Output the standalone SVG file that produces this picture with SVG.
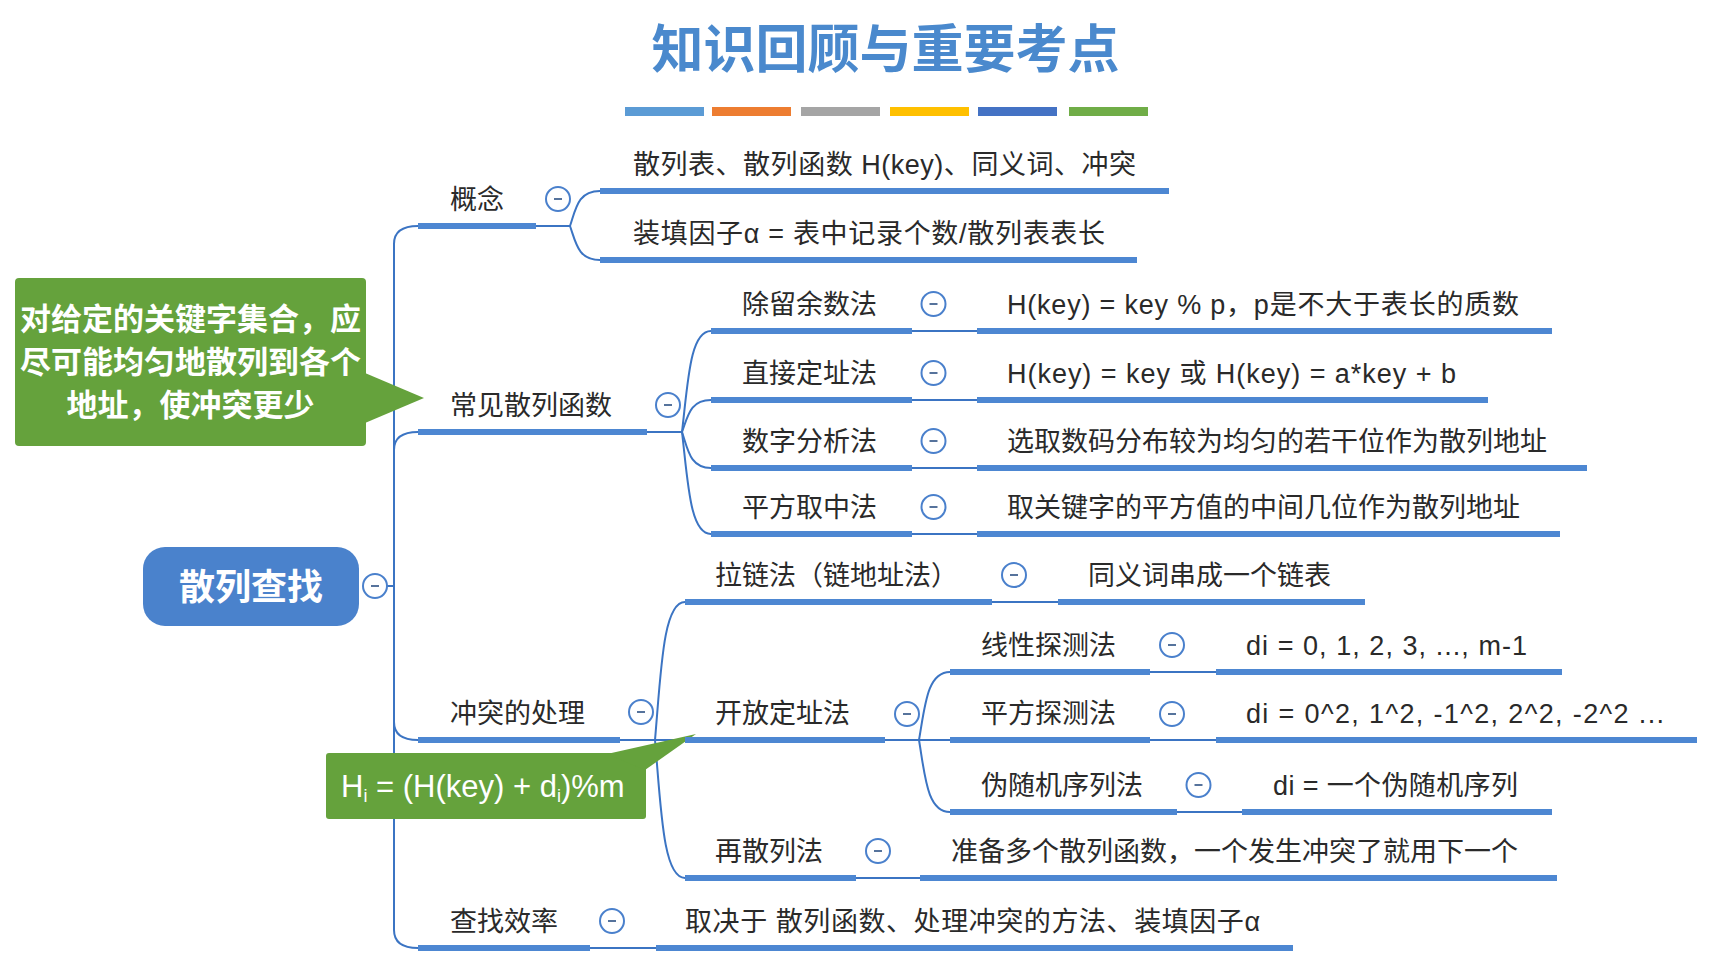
<svg xmlns="http://www.w3.org/2000/svg" xmlns:xlink="http://www.w3.org/1999/xlink" width="1723" height="973" viewBox="0 0 1723 973">
<defs>
<style>
.t{font-family:"Liberation Sans","Noto Sans CJK SC",sans-serif;font-size:27px;fill:#2a2a2a}
.ul{stroke:#4d87d2;stroke-width:6;fill:none}
.cn{stroke:#3b74c3;stroke-width:2;fill:none}
.bar{height:9px;width:79px}
.gt{font-family:"Noto Sans CJK SC",sans-serif;font-size:31px;font-weight:700;fill:#ffffff}
</style>
<g id="btn">
<circle r="12" fill="#ffffff" stroke="#4a80cc" stroke-width="2"/>
<line x1="-4" y1="0" x2="4" y2="0" stroke="#56739c" stroke-width="2"/>
</g>
</defs>
<rect width="1723" height="973" fill="#ffffff"/>

<g id="title">
<text x="885.5" y="68" text-anchor="middle" font-family="Noto Sans CJK SC, sans-serif" font-size="52" font-weight="700" fill="#4a89cd">知识回顾与重要考点</text>
<rect x="625" y="107" width="79" height="9" fill="#5b9bd5"/>
<rect x="712" y="107" width="79" height="9" fill="#ed7d31"/>
<rect x="801" y="107" width="79" height="9" fill="#a5a5a5"/>
<rect x="890" y="107" width="79" height="9" fill="#ffc000"/>
<rect x="978" y="107" width="79" height="9" fill="#4472c4"/>
<rect x="1069" y="107" width="79" height="9" fill="#70ad47"/>
</g>

<g id="connectors">
<path class="cn" d="M387,586 H394"/>
<path class="cn" d="M394,586 V244 Q394,226 418,226"/>
<path class="cn" d="M394,586 V450 Q394,432 418,432"/>
<path class="cn" d="M394,586 V722 Q394,740 418,740"/>
<path class="cn" d="M394,586 V930 Q394,948 418,948"/>
<path class="cn" d="M536,226 H570"/>
<path class="cn" d="M570,226 C576,208 578,191 600,191"/>
<path class="cn" d="M570,226 C576,243 578,260 600,260"/>
<path class="cn" d="M647,432 H682"/>
<path class="cn" d="M682,432 C688,381 690,331 711,331"/>
<path class="cn" d="M682,432 C688,416 690,400 711,400"/>
<path class="cn" d="M682,432 C688,450 690,468 711,468"/>
<path class="cn" d="M682,432 C688,483 690,534 711,534"/>
<path class="cn" d="M620,740 H655"/>
<path class="cn" d="M655,740 C661,671 663,602 685,602"/>
<path class="cn" d="M655,740 H685"/>
<path class="cn" d="M655,740 C661,809 663,878 685,878"/>
<path class="cn" d="M885,740 H919"/>
<path class="cn" d="M919,740 C925,706 927,672 950,672"/>
<path class="cn" d="M919,740 H950"/>
<path class="cn" d="M919,740 C925,776 927,812 950,812"/>
<path class="cn" d="M912,331 H977"/>
<path class="cn" d="M912,400 H977"/>
<path class="cn" d="M912,468 H977"/>
<path class="cn" d="M912,534 H977"/>
<path class="cn" d="M992,602 H1058"/>
<path class="cn" d="M1150,672 H1216"/>
<path class="cn" d="M1150,740 H1216"/>
<path class="cn" d="M1177,812 H1242"/>
<path class="cn" d="M856,878 H920"/>
<path class="cn" d="M590,948 H656"/>
</g>

<g id="root">
<rect x="143" y="547" width="216" height="79" rx="22" fill="#4a82cc"/>
<text x="251" y="600" text-anchor="middle" font-family="Noto Sans CJK SC, sans-serif" font-size="36" font-weight="700" fill="#ffffff">散列查找</text>
<use xlink:href="#btn" x="375" y="586"/>
</g>

<g id="note-goal">
<rect x="15" y="278" width="351" height="168" rx="4" fill="#65a23c"/>
<polygon points="365,373 424,398 365,423" fill="#65a23c"/>
<text class="gt" x="190.5" y="330" text-anchor="middle">对给定的关键字集合，应</text>
<text class="gt" x="190.5" y="373" text-anchor="middle">尽可能均匀地散列到各个</text>
<text class="gt" x="190.5" y="416" text-anchor="middle">地址，使冲突更少</text>
</g>

<g id="note-formula">
<rect x="326" y="753" width="320" height="66" rx="3" fill="#65a23c"/>
<polygon points="607,754 696,734 645,770" fill="#65a23c"/>
<text x="341" y="797" font-family="Liberation Sans, sans-serif" font-size="31" fill="#ffffff">H<tspan font-size="18" dy="5">i</tspan><tspan dy="-5"> = (H(key) + d</tspan><tspan font-size="18" dy="5">i</tspan><tspan dy="-5">)%m</tspan></text>
</g>

<g id="n-concept">
<line class="ul" x1="418" y1="226" x2="536" y2="226"/>
<text class="t" x="450" y="209">概念</text>
<use xlink:href="#btn" x="558" y="199"/>
</g>
<g id="n-concept-1">
<line class="ul" x1="600" y1="191" x2="1169" y2="191"/>
<text class="t" x="633" y="174" textLength="503">散列表、散列函数 H(key)、同义词、冲突</text>
</g>
<g id="n-concept-2">
<line class="ul" x1="600" y1="260" x2="1137" y2="260"/>
<text class="t" x="633" y="243" textLength="472">装填因子α = 表中记录个数/散列表表长</text>
</g>

<g id="n-func">
<line class="ul" x1="418" y1="432" x2="647" y2="432"/>
<text class="t" x="450" y="415">常见散列函数</text>
<use xlink:href="#btn" x="668" y="405"/>
</g>
<g id="n-div">
<line class="ul" x1="711" y1="331" x2="912" y2="331"/>
<text class="t" x="742" y="314">除留余数法</text>
<use xlink:href="#btn" x="933.5" y="304"/>
<line class="ul" x1="977" y1="331" x2="1552" y2="331"/>
<text class="t" x="1007" y="314" textLength="512">H(key) = key % p，p是不大于表长的质数</text>
</g>
<g id="n-direct">
<line class="ul" x1="711" y1="400" x2="912" y2="400"/>
<text class="t" x="742" y="383">直接定址法</text>
<use xlink:href="#btn" x="933.5" y="373"/>
<line class="ul" x1="977" y1="400" x2="1488" y2="400"/>
<text class="t" x="1007" y="383" textLength="449">H(key) = key 或 H(key) = a*key + b</text>
</g>
<g id="n-digit">
<line class="ul" x1="711" y1="468" x2="912" y2="468"/>
<text class="t" x="742" y="451">数字分析法</text>
<use xlink:href="#btn" x="933.5" y="441"/>
<line class="ul" x1="977" y1="468" x2="1587" y2="468"/>
<text class="t" x="1007" y="451">选取数码分布较为均匀的若干位作为散列地址</text>
</g>
<g id="n-midsq">
<line class="ul" x1="711" y1="534" x2="912" y2="534"/>
<text class="t" x="742" y="517">平方取中法</text>
<use xlink:href="#btn" x="933.5" y="507"/>
<line class="ul" x1="977" y1="534" x2="1560" y2="534"/>
<text class="t" x="1007" y="517">取关键字的平方值的中间几位作为散列地址</text>
</g>

<g id="n-collision">
<line class="ul" x1="418" y1="740" x2="620" y2="740"/>
<text class="t" x="450" y="723">冲突的处理</text>
<use xlink:href="#btn" x="641" y="712"/>
</g>
<g id="n-chain">
<line class="ul" x1="685" y1="602" x2="992" y2="602"/>
<text class="t" x="715" y="585">拉链法（链地址法）</text>
<use xlink:href="#btn" x="1014" y="575"/>
<line class="ul" x1="1058" y1="602" x2="1365" y2="602"/>
<text class="t" x="1088" y="585">同义词串成一个链表</text>
</g>
<g id="n-open">
<line class="ul" x1="685" y1="740" x2="885" y2="740"/>
<text class="t" x="715" y="723">开放定址法</text>
<use xlink:href="#btn" x="907" y="714"/>
</g>
<g id="n-linear">
<line class="ul" x1="950" y1="672" x2="1150" y2="672"/>
<text class="t" x="981" y="655">线性探测法</text>
<use xlink:href="#btn" x="1172" y="645"/>
<line class="ul" x1="1216" y1="672" x2="1562" y2="672"/>
<text class="t" x="1246" y="655" textLength="281">di = 0, 1, 2, 3, ..., m-1</text>
</g>
<g id="n-square">
<line class="ul" x1="950" y1="740" x2="1150" y2="740"/>
<text class="t" x="981" y="723">平方探测法</text>
<use xlink:href="#btn" x="1172" y="714"/>
<line class="ul" x1="1216" y1="740" x2="1697" y2="740"/>
<text class="t" x="1246" y="723" textLength="418">di = 0^2, 1^2, -1^2, 2^2, -2^2 ...</text>
</g>
<g id="n-random">
<line class="ul" x1="950" y1="812" x2="1177" y2="812"/>
<text class="t" x="981" y="795">伪随机序列法</text>
<use xlink:href="#btn" x="1198.5" y="785"/>
<line class="ul" x1="1242" y1="812" x2="1552" y2="812"/>
<text class="t" x="1273" y="795" textLength="245">di = 一个伪随机序列</text>
</g>
<g id="n-rehash">
<line class="ul" x1="685" y1="878" x2="856" y2="878"/>
<text class="t" x="715" y="861">再散列法</text>
<use xlink:href="#btn" x="878" y="851"/>
<line class="ul" x1="920" y1="878" x2="1557" y2="878"/>
<text class="t" x="951" y="861">准备多个散列函数，一个发生冲突了就用下一个</text>
</g>

<g id="n-efficiency">
<line class="ul" x1="418" y1="948" x2="590" y2="948"/>
<text class="t" x="450" y="931">查找效率</text>
<use xlink:href="#btn" x="612" y="921"/>
<line class="ul" x1="656" y1="948" x2="1293" y2="948"/>
<text class="t" x="685" y="931" textLength="575">取决于 散列函数、处理冲突的方法、装填因子α</text>
</g>
</svg>
